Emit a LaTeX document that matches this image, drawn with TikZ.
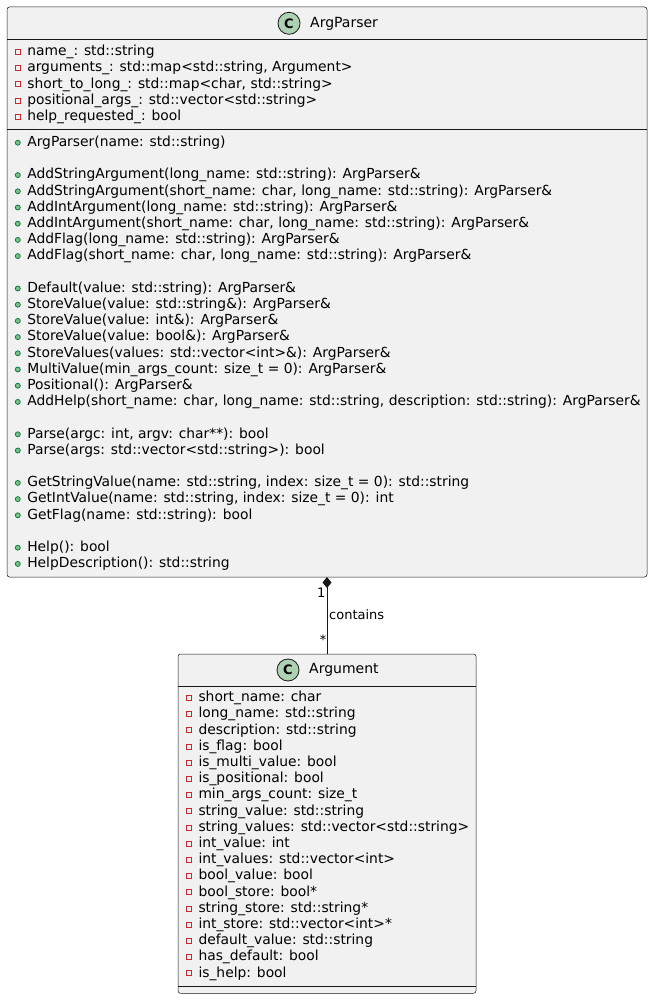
\documentclass[tikz,border=0pt]{standalone}
\usepackage{fontspec}
\setmainfont{DejaVu Sans}
\usetikzlibrary{arrows.meta}
\definecolor{umlfill}{HTML}{F1F1F1}
\definecolor{umlline}{HTML}{181818}
\definecolor{privred}{HTML}{C82930}
\definecolor{pubfill}{HTML}{84BE84}
\definecolor{publine}{HTML}{038048}
\definecolor{classgreen}{HTML}{ADD1B2}

\newcommand{\memberrows}[6]{%
  \foreach \txt [count=\k from #4] in {#6} {
    \node[#5] (#1i\k) at (#2, #3+\k*16.2) {};
    \node[member] (#1\k) at (#2+9.3, #3+\k*16.2) {\txt};
  }}

\begin{document}
\begin{tikzpicture}[x=1pt,y=-1pt,
  classbox/.style={draw=umlline, fill=umlfill, line width=0.5pt, rounded corners=2.5pt, inner sep=0pt, outer sep=0pt},
  classline/.style={draw=umlline, line width=0.5pt},
  classmark/.style={circle, draw=umlline, fill=classgreen, line width=0.8pt, minimum size=22pt, inner sep=0pt, font=\fontsize{13}{13}\selectfont\bfseries},
  classname/.style={anchor=west, inner sep=0pt, text height=10.5pt, text depth=3pt, font=\fontsize{14}{16}\selectfont},
  member/.style={anchor=west, inner sep=0pt, text height=10.5pt, text depth=3pt, font=\fontsize{13.85}{16}\selectfont},
  privmark/.style={draw=privred, line width=1pt, minimum size=5pt, inner sep=0pt},
  pubmark/.style={circle, draw=publine, fill=pubfill, line width=0.8pt, minimum size=5pt, inner sep=0pt},
  owns/.style={draw=umlline, line width=1pt, {Diamond[length=11pt,width=9pt,fill=umlline]}-},
  rolelabel/.style={inner sep=0pt, font=\fontsize{13}{13}\selectfont}]

\useasboundingbox (0,0) rectangle (654,1000);

\node[classbox, minimum width=640pt, minimum height=570pt] (argparser) at (327,292) {};
\draw[classline] ([yshift=-32.3pt]argparser.north west) -- ([yshift=-32.3pt]argparser.north east);
\draw[classline] ([yshift=-122.3pt]argparser.north west) -- ([yshift=-122.3pt]argparser.north east);
\node[classmark] (argparserC) at (289,23.3) {C};
\node[classname] (argparserN) at (310,23.3) {ArgParser};

\memberrows{apa}{17.8}{52}{0}{privmark}{name\_: std::string, {arguments\_: std::map<std::string, Argument>}, {short\_to\_long\_: std::map<char, std::string>}, positional\_args\_: std::vector<std::string>, help\_requested\_: bool}

\memberrows{apm}{17.8}{142.7}{0}{pubmark}{ArgParser(name: std::string)}
\memberrows{apm}{17.8}{142.7}{2}{pubmark}{AddStringArgument(long\_name: std::string): ArgParser\&, {AddStringArgument(short\_name: char, long\_name: std::string): ArgParser\&}, AddIntArgument(long\_name: std::string): ArgParser\&, {AddIntArgument(short\_name: char, long\_name: std::string): ArgParser\&}, AddFlag(long\_name: std::string): ArgParser\&, {AddFlag(short\_name: char, long\_name: std::string): ArgParser\&}}
\memberrows{apm}{17.8}{142.7}{9}{pubmark}{Default(value: std::string): ArgParser\&, StoreValue(value: std::string\&): ArgParser\&, StoreValue(value: int\&): ArgParser\&, StoreValue(value: bool\&): ArgParser\&, StoreValues(values: std::vector<int>\&): ArgParser\&, MultiValue(min\_args\_count: size\_t = 0): ArgParser\&, Positional(): ArgParser\&, {AddHelp(short\_name: char, long\_name: std::string, description: std::string): ArgParser\&}}
\memberrows{apm}{17.8}{142.7}{18}{pubmark}{{Parse(argc: int, argv: char**): bool}, Parse(args: std::vector<std::string>): bool}
\memberrows{apm}{17.8}{142.7}{21}{pubmark}{{GetStringValue(name: std::string, index: size\_t = 0): std::string}, {GetIntValue(name: std::string, index: size\_t = 0): int}, GetFlag(name: std::string): bool}
\memberrows{apm}{17.8}{142.7}{25}{pubmark}{Help(): bool, HelpDescription(): std::string}

\node[classbox, minimum width=298pt, minimum height=339.3pt] (argument) at (327,823.65) {};
\draw[classline] ([yshift=-32pt]argument.north west) -- ([yshift=-32pt]argument.north east);
\draw[classline] ([yshift=-332.5pt]argument.north west) -- ([yshift=-332.5pt]argument.north east);
\node[classmark] (argumentC) at (288,670) {C};
\node[classname] (argumentN) at (309,670) {Argument};

\memberrows{arg}{189}{698}{0}{privmark}{short\_name: char, long\_name: std::string, description: std::string, is\_flag: bool, is\_multi\_value: bool, is\_positional: bool, min\_args\_count: size\_t, string\_value: std::string, string\_values: std::vector<std::string>, int\_value: int, int\_values: std::vector<int>, bool\_value: bool, bool\_store: bool*, string\_store: std::string*, int\_store: std::vector<int>*, default\_value: std::string, has\_default: bool, is\_help: bool}

\draw[owns] (argparser.south) -- (argument.north);
\node[rolelabel, anchor=base east] (ownerMult) at (325.5,597.5) {1};
\node[rolelabel, anchor=base west] (relLabel) at (329,619) {contains};
\node[rolelabel, anchor=base east] (partMult) at (326.5,644) {*};
\end{tikzpicture}
\end{document}
